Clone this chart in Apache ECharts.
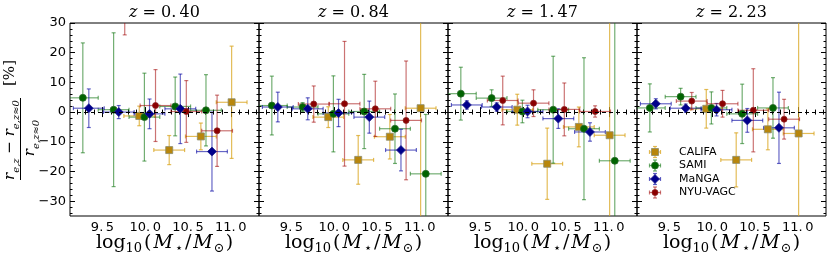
<!DOCTYPE html>
<html>
<head>
<meta charset="utf-8">
<script src="https://cdn.jsdelivr.net/npm/echarts@6/dist/echarts.min.js"></script>
<style>html,body{margin:0;padding:0;background:#fff}#c{width:830px;height:260px}</style>
</head>
<body>
<div id="c"></div>
<script>
// ---------- data ----------
const redshifts = ['0.40', '0.84', '1.47', '2.23'];
const xMajor = [9.5, 10.0, 10.5, 11.0];
const xMinor = [9.2, 9.3, 9.4, 9.6, 9.7, 9.8, 9.9, 10.1, 10.2, 10.3, 10.4, 10.6, 10.7, 10.8, 10.9, 11.1, 11.2, 11.3];
const yMajor = [-30, -20, -10, 0, 10, 20, 30];
const yMinor = [-34, -32, -28, -26, -24, -22, -18, -16, -14, -12, -8, -6, -4, -2, 2, 4, 6, 8, 12, 14, 16, 18, 22, 24, 26, 28];
const seriesNames = ['CALIFA', 'SAMI', 'MaNGA', 'NYU-VAGC'];

// stellar-mass bin centres (log10 M*/Msun) and half-widths
const califaX = [9.93, 10.28, 10.65, 11.01];
const samiX   = [9.27, 9.63, 9.99, 10.35, 10.71, 11.07];
const mangaX  = [9.34, 9.69, 10.05, 10.41, 10.78];
const nyuX    = [9.76, 10.12, 10.48, 10.84];
const califaXErr = [0.18, 0.18, 0.18, 0.18];
const samiXErr   = [0.18, 0.18, 0.18, 0.18, 0.18, 0.18];
const mangaXErr  = [0.18, 0.18, 0.18, 0.18, 0.18];
const nyuXErr    = [0.18, 0.18, 0.18, 0.18];

// per panel (z = 0.40, 0.84, 1.47, 2.23): values and symmetric y errors [%]
const califaY = [
  [-1.3, -12.8, -8.2, 3.3],
  [-1.7, -16.1, -8.3, 1.3],
  [0.8, -17.4, -5.0, -7.8],
  [1.1, -16.1, -5.8, -7.2]
];
const califaYErr = [
  [3.3, 4.9, 4.5, 18.9],
  [3.5, 8.2, 7.5, 40],
  [5.2, 12.0, 6.7, 40],
  [6.5, 9.1, 6.9, 40]
];
const samiY = [
  [4.8, 0.8, -1.7, 1.9, 0.6, null],
  [2.2, 1.7, -0.6, 0.2, -5.6, -20.8],
  [6.2, 4.7, 0.2, 0.8, -5.6, -16.4],
  [1.4, 5.2, 1.4, -0.6, 1.4, null]
];
const samiYErr = [
  [18.5, 25.9, 14.8, 9.9, 12.0, null],
  [9.9, 1.5, 12.8, 12.5, 11.7, 20.0],
  [8.9, 2.8, 3.8, 18.0, 23.9, 50.0],
  [8.1, 2.8, 5.4, 10.0, 10.2, null]
];
const mangaY = [
  [1.3, 0.0, -0.6, 1.1, -13.3],
  [1.7, 1.1, -0.3, -1.7, -12.8],
  [2.4, 1.7, 0.2, -2.2, -6.7],
  [2.8, 1.3, 0.8, -2.8, -5.3]
];
const mangaYErr = [
  [6.5, 2.2, 5.0, 11.7, 13.3],
  [5.0, 3.7, 4.6, 5.4, 7.0],
  [1.4, 1.4, 2.1, 3.3, 3.1],
  [1.7, 1.4, 2.1, 4.0, 12.0]
];
const nyuY = [
  [33.0, 2.2, 0.2, -6.3],
  [2.7, 2.8, 1.1, -2.8],
  [3.9, 3.0, 0.9, 0.2],
  [3.7, 2.8, 0.6, -2.4]
];
const nyuYErr = [
  [7.0, 12.1, 10.4, 12.0],
  [6.1, 21.0, 9.3, 20.0],
  [8.2, 4.5, 8.9, 1.9],
  [2.9, 4.5, 14.0, 6.7]
];

// ---------- styles / layout ----------
const styles = [
  {name: seriesNames[0], x: califaX, xe: califaXErr, y: califaY, ye: califaYErr, symbol: 'rect', size: 7, color: '#b8860b', border: '#8a8a6a', err: 'rgba(218,165,32,0.75)'},
  {name: seriesNames[1], x: samiX, xe: samiXErr, y: samiY, ye: samiYErr, symbol: 'circle', size: 7, color: '#006400', border: '#2a6a2a', err: 'rgba(20,120,20,0.6)'},
  {name: seriesNames[2], x: mangaX, xe: mangaXErr, y: mangaY, ye: mangaYErr, symbol: 'diamond', size: 9, color: '#00008b', border: '#22228b', err: 'rgba(0,0,160,0.6)'},
  {name: seriesNames[3], x: nyuX, xe: nyuXErr, y: nyuY, ye: nyuYErr, symbol: 'circle', size: 6, color: '#8b0000', border: '#8b2222', err: 'rgba(160,0,0,0.55)'}
];
const GL = [70, 259, 448, 637], GW = 189, GT = 23, GH = 193;
const XMIN = 9.12, XMAX = 11.33, YMIN = -35, YMAX = 30;

const grids = [], xAxes = [], yAxes = [], series = [], graphics = [];
const fmtNum = v => (v < 0 ? '\u2212' : '') + Math.abs(v);
const fmtX = v => v.toFixed(1).replace('.', '.\u2009');

function mkAxisX(i, pos, major, labels) {
  return {
    gridIndex: i, type: 'value', min: XMIN, max: XMAX, position: pos,
    axisLine: {show: false}, splitLine: {show: false},
    axisTick: {show: true, inside: true, length: major ? 5 : 2.5, customValues: major ? xMajor : xMinor, lineStyle: {color: '#000', width: 1}},
    axisLabel: labels ? {show: true, customValues: xMajor, formatter: fmtX, color: '#000', fontSize: 13, fontFamily: 'DejaVu Sans', margin: 5} : {show: false}
  };
}
function mkAxisY(i, pos, major, labels) {
  return {
    gridIndex: i, type: 'value', min: YMIN, max: YMAX, position: pos,
    axisLine: {show: false}, splitLine: {show: false},
    axisTick: {show: true, inside: true, length: major ? 5 : 2.5, customValues: major ? yMajor : yMinor, lineStyle: {color: '#000', width: 1}},
    axisLabel: labels ? {show: true, customValues: yMajor, formatter: fmtNum, color: '#000', fontSize: 13, fontFamily: 'DejaVu Sans', margin: 4} : {show: false}
  };
}

function errRender(color) {
  return function (params, api) {
    const x = api.value(0), y = api.value(1), xe = api.value(2), ye = api.value(3);
    const L = api.coord([x - xe, y]), R = api.coord([x + xe, y]);
    const T = api.coord([x, y + ye]), B = api.coord([x, y - ye]);
    const c = 2;
    const st = {stroke: color, lineWidth: 1.2, fill: null};
    const ln = (x1, y1, x2, y2) => ({type: 'line', shape: {x1, y1, x2, y2}, style: st});
    return {type: 'group', children: [
      ln(L[0], L[1], R[0], R[1]),
      ln(L[0], L[1] - c, L[0], L[1] + c),
      ln(R[0], R[1] - c, R[0], R[1] + c),
      ln(T[0], T[1], B[0], B[1]),
      ln(T[0] - c, T[1], T[0] + c, T[1]),
      ln(B[0] - c, B[1], B[0] + c, B[1])
    ]};
  };
}

for (let p = 0; p < 4; p++) {
  grids.push({left: GL[p], top: GT, width: GW, height: GH, show: true, borderColor: '#000', borderWidth: 1, backgroundColor: 'transparent'});
  xAxes.push(mkAxisX(p, 'bottom', true, true), mkAxisX(p, 'bottom', false, false), mkAxisX(p, 'top', true, false), mkAxisX(p, 'top', false, false));
  yAxes.push(mkAxisY(p, 'left', true, p === 0), mkAxisY(p, 'left', false, false), mkAxisY(p, 'right', true, false), mkAxisY(p, 'right', false, false));

  // zero reference line
  series.push({
    type: 'line', xAxisIndex: 4 * p, yAxisIndex: 4 * p, data: [], silent: true,
    markLine: {silent: true, symbol: 'none', label: {show: false}, animation: false,
      lineStyle: {type: [4, 3], color: '#000', width: 1.2}, data: [{yAxis: 0}]}
  });

  styles.forEach(s => {
    const pts = [];
    s.x.forEach((xv, k) => {
      const yv = s.y[p][k];
      if (yv !== null && yv !== undefined) pts.push([xv, yv, s.xe[k], s.ye[p][k]]);
    });
    series.push({
      type: 'custom', name: s.name, xAxisIndex: 4 * p, yAxisIndex: 4 * p, clip: true,
      renderItem: errRender(s.err), encode: {x: 0, y: 1}, data: pts, silent: true, animation: false
    });
    series.push({
      type: 'scatter', name: s.name, xAxisIndex: 4 * p, yAxisIndex: 4 * p, clip: true,
      symbol: s.symbol, symbolSize: s.size, data: pts.map(d => [d[0], d[1]]),
      itemStyle: {color: s.color, borderColor: s.border, borderWidth: 0.8, opacity: 1}, animation: false
    });
  });

  const cx = GL[p] + GW / 2;
  graphics.push({
    type: 'text', x: cx, y: 13,
    style: {
      text: '{i|z}{n| = ' + redshifts[p].replace('.', '.\u2009') + '}',
      align: 'center', verticalAlign: 'middle',
      rich: {
        i: {fontFamily: 'DejaVu Serif', fontStyle: 'italic', fontSize: 16, fill: '#000'},
        n: {fontFamily: 'DejaVu Serif', fontSize: 16, fill: '#000'}
      }
    }
  });
  graphics.push({
    type: 'text', x: cx, y: 243,
    style: {
      text: '{n|log}{s|10}{p|(}{i|M}{s|\u22c6}{q|/}{j|M}{s|\u2299}{n|)}',
      align: 'center', verticalAlign: 'middle',
      rich: {
        n: {fontFamily: 'DejaVu Serif', fontSize: 19, fill: '#000', lineHeight: 24, verticalAlign: 'middle'},
        p: {fontFamily: 'DejaVu Serif', fontSize: 19, fill: '#000', lineHeight: 24, verticalAlign: 'middle', padding: [0, 0, 0, 1]},
        q: {fontFamily: 'DejaVu Serif', fontSize: 19, fill: '#000', lineHeight: 24, verticalAlign: 'middle', padding: [0, 1, 0, 1]},
        i: {fontFamily: 'DejaVu Serif', fontStyle: 'italic', fontSize: 19, fill: '#000', lineHeight: 24, verticalAlign: 'middle', padding: [0, 2, 0, 2]},
        j: {fontFamily: 'DejaVu Serif', fontStyle: 'italic', fontSize: 19, fill: '#000', lineHeight: 24, verticalAlign: 'middle', padding: [0, 1, 0, 1]},
        s: {fontFamily: 'DejaVu Serif', fontSize: 13, fill: '#000', lineHeight: 11, verticalAlign: 'bottom', padding: [0, 1, 0, 0]}
      }
    }
  });
}

// y-axis label (fraction)
const richY = {
  i: {fontFamily: 'DejaVu Serif', fontStyle: 'italic', fontSize: 15, fill: '#000', lineHeight: 22, verticalAlign: 'middle'},
  n: {fontFamily: 'DejaVu Serif', fontSize: 15, fill: '#000', lineHeight: 22, verticalAlign: 'middle'},
  s: {fontFamily: 'DejaVu Serif', fontStyle: 'italic', fontSize: 10, fill: '#000', lineHeight: 10, verticalAlign: 'bottom'}
};
graphics.push({type: 'text', x: 10, y: 140, rotation: Math.PI / 2,
  style: {text: '{i|r}{s|e,z}{n| \u2212 }{i|r}{s|e,z\u22480}', align: 'center', verticalAlign: 'middle', rich: richY}});
graphics.push({type: 'line', shape: {x1: 20.5, y1: 98, x2: 20.5, y2: 180}, style: {stroke: '#000', lineWidth: 1}});
graphics.push({type: 'text', x: 30, y: 138, rotation: Math.PI / 2,
  style: {text: '{i|r}{s|e,z\u22480}', align: 'center', verticalAlign: 'middle', rich: richY}});
graphics.push({type: 'text', x: 10, y: 73, rotation: Math.PI / 2,
  style: {text: '[%]', align: 'center', verticalAlign: 'middle', font: '15px "DejaVu Serif"', fill: '#000'}});

// legend (drawn in panel 4)
const legY = [152, 165.5, 179, 192.5];
styles.forEach((s, k) => {
  const x0 = 655, y0 = legY[k], c = 2, hw = 5.5;
  const st = {stroke: s.err, lineWidth: 1.2};
  graphics.push({type: 'line', shape: {x1: x0 - hw, y1: y0, x2: x0 + hw, y2: y0}, style: st});
  graphics.push({type: 'line', shape: {x1: x0 - hw, y1: y0 - c, x2: x0 - hw, y2: y0 + c}, style: st});
  graphics.push({type: 'line', shape: {x1: x0 + hw, y1: y0 - c, x2: x0 + hw, y2: y0 + c}, style: st});
  graphics.push({type: 'line', shape: {x1: x0, y1: y0 - hw, x2: x0, y2: y0 + hw}, style: st});
  graphics.push({type: 'line', shape: {x1: x0 - c, y1: y0 - hw, x2: x0 + c, y2: y0 - hw}, style: st});
  graphics.push({type: 'line', shape: {x1: x0 - c, y1: y0 + hw, x2: x0 + c, y2: y0 + hw}, style: st});
  const fs = {fill: s.color, stroke: s.border, lineWidth: 0.8};
  const h = s.size / 2;
  if (s.symbol === 'rect') graphics.push({type: 'rect', shape: {x: x0 - h, y: y0 - h, width: s.size, height: s.size}, style: fs});
  else if (s.symbol === 'circle') graphics.push({type: 'circle', shape: {cx: x0, cy: y0, r: h}, style: fs});
  else graphics.push({type: 'polygon', shape: {points: [[x0, y0 - h], [x0 + h, y0], [x0, y0 + h], [x0 - h, y0]]}, style: fs});
  graphics.push({type: 'text', x: 679, y: y0, style: {text: s.name, font: '11px "DejaVu Sans"', fill: '#000', verticalAlign: 'middle', align: 'left'}});
});

const chart = echarts.init(document.getElementById('c'), null, {renderer: 'canvas'});
chart.setOption({
  animation: false,
  backgroundColor: '#fff',
  grid: grids, xAxis: xAxes, yAxis: yAxes, series: series,
  graphic: {elements: graphics}
});
</script>
</body>
</html>
